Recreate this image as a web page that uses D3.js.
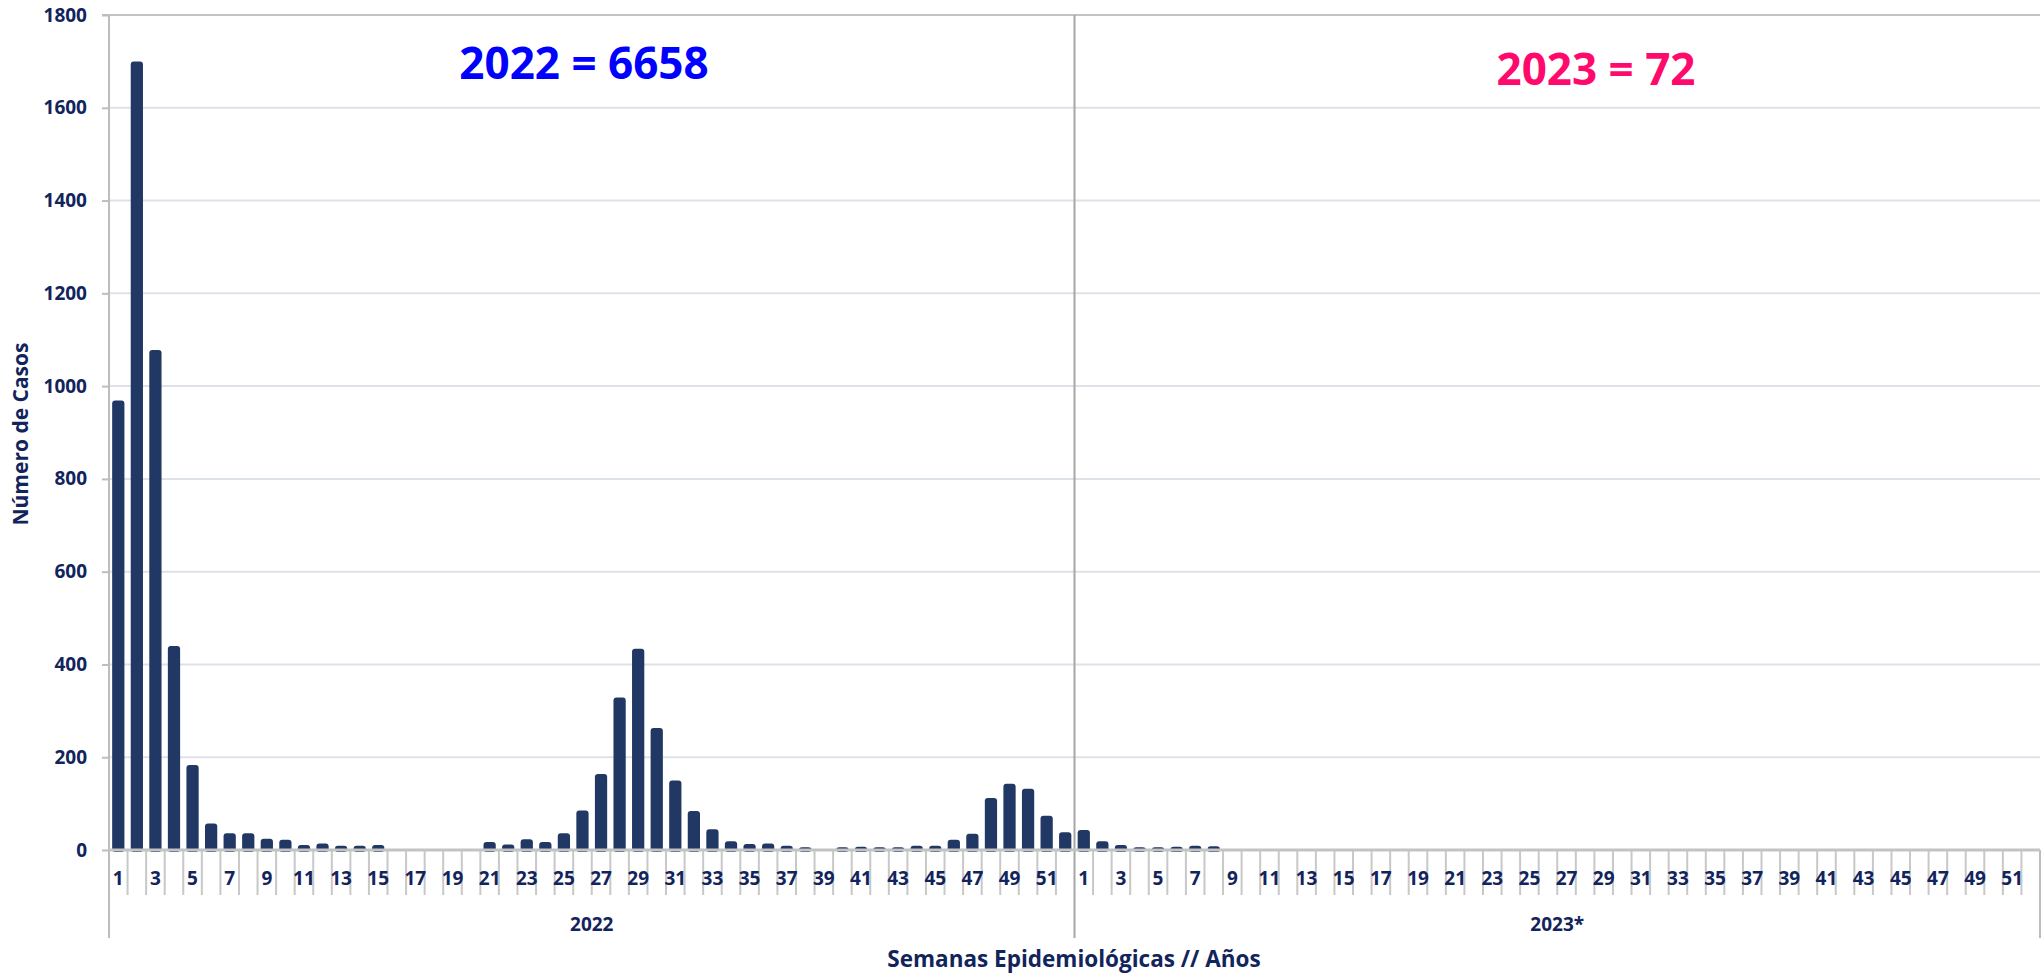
<!DOCTYPE html>
<html>
<head>
<meta charset="utf-8">
<script src="https://cdn.jsdelivr.net/npm/d3@7"></script>
<style>
  body { margin: 0; background: #fff; }
  text { font-family: "Open Sans", Lato, sans-serif; font-weight: 700; }
</style>
</head>
<body>
<svg id="chart"></svg>
<script>
// weekly cases, epi weeks 1..52
const weeks = d3.range(1, 53);
const cases2022 = [969, 1700, 1078, 440, 183, 57, 36, 36, 24, 22, 11, 14, 9, 9, 11, 0, 0, 0, 0, 0,
  17, 12, 23, 17, 36, 85, 164, 329, 434, 263, 150, 84, 45, 19, 13, 14, 9, 6, 0, 6,
  7, 6, 6, 9, 9, 22, 35, 112, 143, 132, 74, 38];
const cases2023 = [43, 19, 11, 6, 6, 7, 9, 8];
const years = ['2022', '2023'];
const yearLabels = ['2022', '2023*'];
const totals = ['2022 = 6658', '2023 = 72'];
const totalColors = ['#0000ff', '#ff0a6c'];
const yTicks = d3.range(0, 1801, 200);

const W = 2041, H = 975;
const plotL = 109, plotR = 2040, plotT = 15, zeroY = 850;
const ink = '#12245c';

// flat table year/week/value
let rows = [];
years.forEach((yr, yi) => {
    let vals = yi == 0 ? cases2022 : cases2023;
    weeks.forEach((w, i) => {
        rows.push({ key: yr + '-' + w, year: yr, week: w, value: i < vals.length ? vals[i] : null });
    });
});

let svg = d3.select('#chart').attr('width', W).attr('height', H);

let x = d3.scaleBand()
    .domain(rows.map(d => d.key))
    .range([plotL, plotR])
    .paddingInner(0.34)
    .paddingOuter(0.17);

let y = d3.scaleLinear()
    .domain([0, 1800])
    .range([zeroY, plotT]);

// gridlines
svg.append('g').selectAll('line')
    .data(yTicks.filter(t => t > 0 && t < 1800))
    .join('line')
    .attr('x1', plotL).attr('x2', plotR)
    .attr('y1', d => y(d)).attr('y2', d => y(d))
    .attr('stroke', '#dde2e9').attr('stroke-width', 2);

// top border
svg.append('line')
    .attr('x1', plotL - 7).attr('x2', plotR)
    .attr('y1', y(1800)).attr('y2', y(1800))
    .attr('stroke', '#c3c3c3').attr('stroke-width', 2);

// y axis
let yAxis = svg.append('g')
    .attr('transform', 'translate(' + plotL + ',0)')
    .call(d3.axisLeft(y).tickValues(yTicks).tickFormat(d3.format('d')).tickSize(7).tickPadding(15));
yAxis.select('.domain').remove();
yAxis.selectAll('.tick line').attr('stroke', '#bdbdbd').attr('stroke-width', 2);
yAxis.selectAll('.tick text')
    .attr('fill', ink)
    .style('font-size', '19px')
    .style('font-family', '"Open Sans", sans-serif')
    .style('font-weight', 700);

// bars
let step = x.step();
svg.append('g').selectAll('rect')
    .data(rows.filter(d => d.value != null && d.value > 0))
    .join('rect')
    .attr('x', d => x(d.key))
    .attr('y', d => y(d.value))
    .attr('width', x.bandwidth())
    .attr('height', d => zeroY + 2 - y(d.value))
    .attr('rx', 3)
    .attr('fill', '#213864');

// category separators under the axis
let bounds = rows.map((d, i) => plotL + i * step);
svg.append('g').selectAll('line')
    .data(bounds.filter((b, i) => i % 52 != 0))
    .join('line')
    .attr('x1', d => d).attr('x2', d => d)
    .attr('y1', zeroY).attr('y2', 895)
    .attr('stroke', '#c8c8c8').attr('stroke-width', 2);

// year separators
let yearEdges = [plotL, plotL + 52 * step, plotR];
svg.append('g').selectAll('line')
    .data(yearEdges)
    .join('line')
    .attr('x1', d => d).attr('x2', d => d)
    .attr('y1', (d, i) => i == 2 ? zeroY : plotT)
    .attr('y2', 938)
    .attr('stroke', (d, i) => i == 1 ? '#a6a6a6' : '#bdbdbd')
    .attr('stroke-width', 2);

// x axis line
svg.append('line')
    .attr('x1', plotL).attr('x2', plotR)
    .attr('y1', zeroY).attr('y2', zeroY)
    .attr('stroke', '#c3c3c3').attr('stroke-width', 3);

// week labels (odd weeks)
let xAxis = svg.append('g')
    .attr('transform', 'translate(0,' + zeroY + ')')
    .call(d3.axisBottom(x)
        .tickValues(rows.filter(d => d.week % 2 == 1).map(d => d.key))
        .tickFormat(k => k.split('-')[1])
        .tickSize(0).tickPadding(22));
xAxis.select('.domain').remove();
xAxis.selectAll('text')
    .attr('fill', ink)
    .style('font-size', '19px')
    .style('font-family', '"Open Sans", sans-serif')
    .style('font-weight', 700);

// year labels
svg.append('g').selectAll('text')
    .data(yearLabels)
    .join('text')
    .attr('x', (d, i) => (yearEdges[i] + yearEdges[i + 1]) / 2)
    .attr('y', 931)
    .attr('text-anchor', 'middle')
    .attr('fill', ink)
    .style('font-size', '19px')
    .text(d => d);

// totals
svg.append('g').selectAll('text')
    .data(totals)
    .join('text')
    .attr('x', (d, i) => i == 0 ? 584 : 1596)
    .attr('y', (d, i) => i == 0 ? 79 : 85)
    .attr('text-anchor', 'middle')
    .attr('fill', (d, i) => totalColors[i])
    .style('font-size', '44px')
    .text(d => d);

// axis titles
svg.append('text')
    .attr('transform', 'translate(28,434) rotate(-90)')
    .attr('text-anchor', 'middle')
    .attr('fill', ink)
    .style('font-size', '21px')
    .text('Número de Casos');

svg.append('text')
    .attr('x', 1074).attr('y', 967)
    .attr('text-anchor', 'middle')
    .attr('fill', ink)
    .style('font-size', '22.5px')
    .text('Semanas Epidemiológicas // Años');
</script>
</body>
</html>
